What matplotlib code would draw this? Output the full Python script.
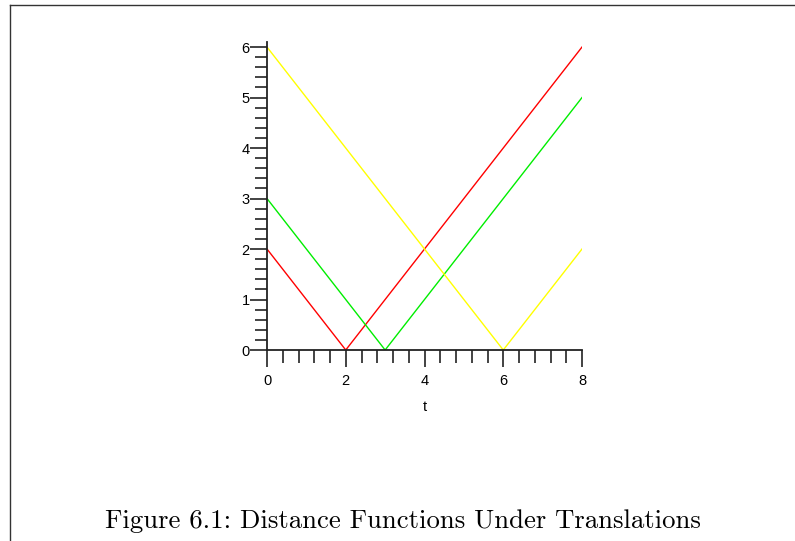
import matplotlib
matplotlib.use("Agg")
import matplotlib.pyplot as plt
from matplotlib.lines import Line2D
from matplotlib.ticker import MultipleLocator, FixedLocator

# Data
t_red = [0, 2, 8]
d_red = [2, 0, 6]
t_green = [0, 3, 8]
d_green = [3, 0, 5]
t_yellow = [0, 6, 8]
d_yellow = [6, 0, 2]
x_ticks = [0, 2, 4, 6, 8]
y_ticks = [0, 1, 2, 3, 4, 5, 6]
caption = "Figure 6.1: Distance Functions Under Translations"

plt.rcParams['font.family'] = ['Liberation Sans', 'DejaVu Sans']

fig = plt.figure(figsize=(7.95, 5.41), dpi=100)
W, H = 795, 541
ax = fig.add_axes([267 / W, 1 - 350 / H, 315 / W, 308 / H])
ax.plot(t_red, d_red, color='#ff0000', lw=1.0)
ax.plot(t_green, d_green, color='#00ee00', lw=1.0)
ax.plot(t_yellow, d_yellow, color='#ffff00', lw=1.0)
ax.set_xlim(0, 8)
ax.set_ylim(0, 6.1)
for s in ['top', 'right']:
    ax.spines[s].set_visible(False)
for s in ['left', 'bottom']:
    ax.spines[s].set_color('#222222')
    ax.spines[s].set_linewidth(1.3)
ax.xaxis.set_major_locator(FixedLocator(x_ticks))
ax.yaxis.set_major_locator(FixedLocator(y_ticks))
ax.xaxis.set_minor_locator(MultipleLocator(0.4))
ax.yaxis.set_minor_locator(MultipleLocator(0.2))
ax.tick_params(axis='both', which='major', length=12, width=1.2, color='#222222',
               labelsize=10.5, direction='out')
ax.tick_params(axis='both', which='minor', length=9, width=1.2, color='#222222',
               direction='out')
ax.tick_params(axis='x', which='major', pad=5)
ax.tick_params(axis='y', which='major', pad=0.5)
ax.set_xlabel('t', fontsize=10.5, labelpad=9)

# page border
fig.add_artist(Line2D([10 / W, 1], [1 - 5 / H, 1 - 5 / H], color='#333333', lw=1.0,
                      transform=fig.transFigure))
fig.add_artist(Line2D([10 / W, 10 / W], [0, 1 - 5 / H], color='#333333', lw=1.0,
                      transform=fig.transFigure))

fig.text(403 / W, 1 - 521 / H, caption, family='cmr10',
         ha='center', va='center', fontsize=19.25)

fig.savefig('out.png', dpi=100)
